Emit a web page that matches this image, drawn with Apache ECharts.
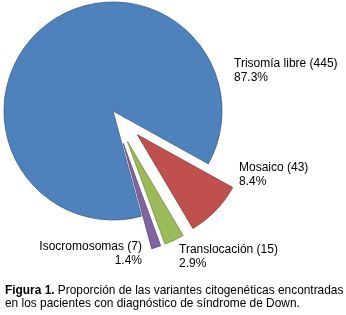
<!DOCTYPE html>
<html>
<head>
<meta charset="utf-8">
<script src="https://cdn.jsdelivr.net/npm/echarts@6/dist/echarts.min.js"></script>
<style>
html,body{margin:0;padding:0;background:#fff;}
#c{width:346px;height:315px;}
</style>
</head>
<body>
<div id="c"></div>
<script>
// Data
const categories = ['Mosaico', 'Translocación', 'Isocromosomas', 'Trisomía libre'];
const counts = [43, 15, 7, 445];
const exploded = [true, true, true, false];

// Styles (kept separate from data)
const fills = ['#C0504D', '#9BBB59', '#8064A2', '#4F81BD'];
const borders = ['#8C3836', '#71893F', '#5C4776', '#385D8A'];
const labelPos = [
  {x: 239, y: 161, align: 'left'},
  {x: 179, y: 243, align: 'left'},
  {x: 142, y: 240, align: 'right'},
  {x: 234, y: 57, align: 'left'}
];
const FONT = 'Liberation Sans, Arial, sans-serif';

const total = counts.reduce((a, b) => a + b, 0);
const labelTexts = categories.map((name, i) =>
  name + ' (' + counts[i] + ')\n' + (counts[i] / total * 100).toFixed(1) + '%');

const chart = echarts.init(document.getElementById('c'), null, {renderer: 'canvas'});
chart.setOption({
  animation: false,
  backgroundColor: '#fff',
  series: [{
    type: 'pie',
    center: [113, 111],
    radius: [0, 109],
    startAngle: -29,
    clockwise: true,
    selectedMode: 'multiple',
    selectedOffset: 34,
    emphasis: {disabled: true},
    label: {show: false},
    labelLine: {show: false},
    data: categories.map((name, i) => ({
      name: name,
      value: counts[i],
      selected: exploded[i],
      itemStyle: {color: fills[i], borderColor: borders[i], borderWidth: 0.8}
    }))
  }],
  graphic: labelTexts.map((t, i) => ({
    type: 'text',
    x: labelPos[i].x,
    y: labelPos[i].y,
    silent: true,
    style: {
      text: t,
      align: labelPos[i].align,
      verticalAlign: 'top',
      fontFamily: FONT,
      fontSize: 12,
      lineHeight: 14,
      fill: '#000'
    }
  })).concat([{
    type: 'text',
    x: 5,
    y: 284,
    silent: true,
    style: {
      text: '{b|Figura 1.} Proporción de las variantes citogenéticas encontradas\nen los pacientes con diagnóstico de síndrome de Down.',
      verticalAlign: 'top',
      fontFamily: FONT,
      fontSize: 11.9,
      lineHeight: 13,
      fill: '#000',
      rich: {
        b: {fontWeight: 'bold', fontFamily: FONT, fontSize: 11.9, lineHeight: 13, fill: '#000'}
      }
    }
  }])
});
</script>
</body>
</html>
